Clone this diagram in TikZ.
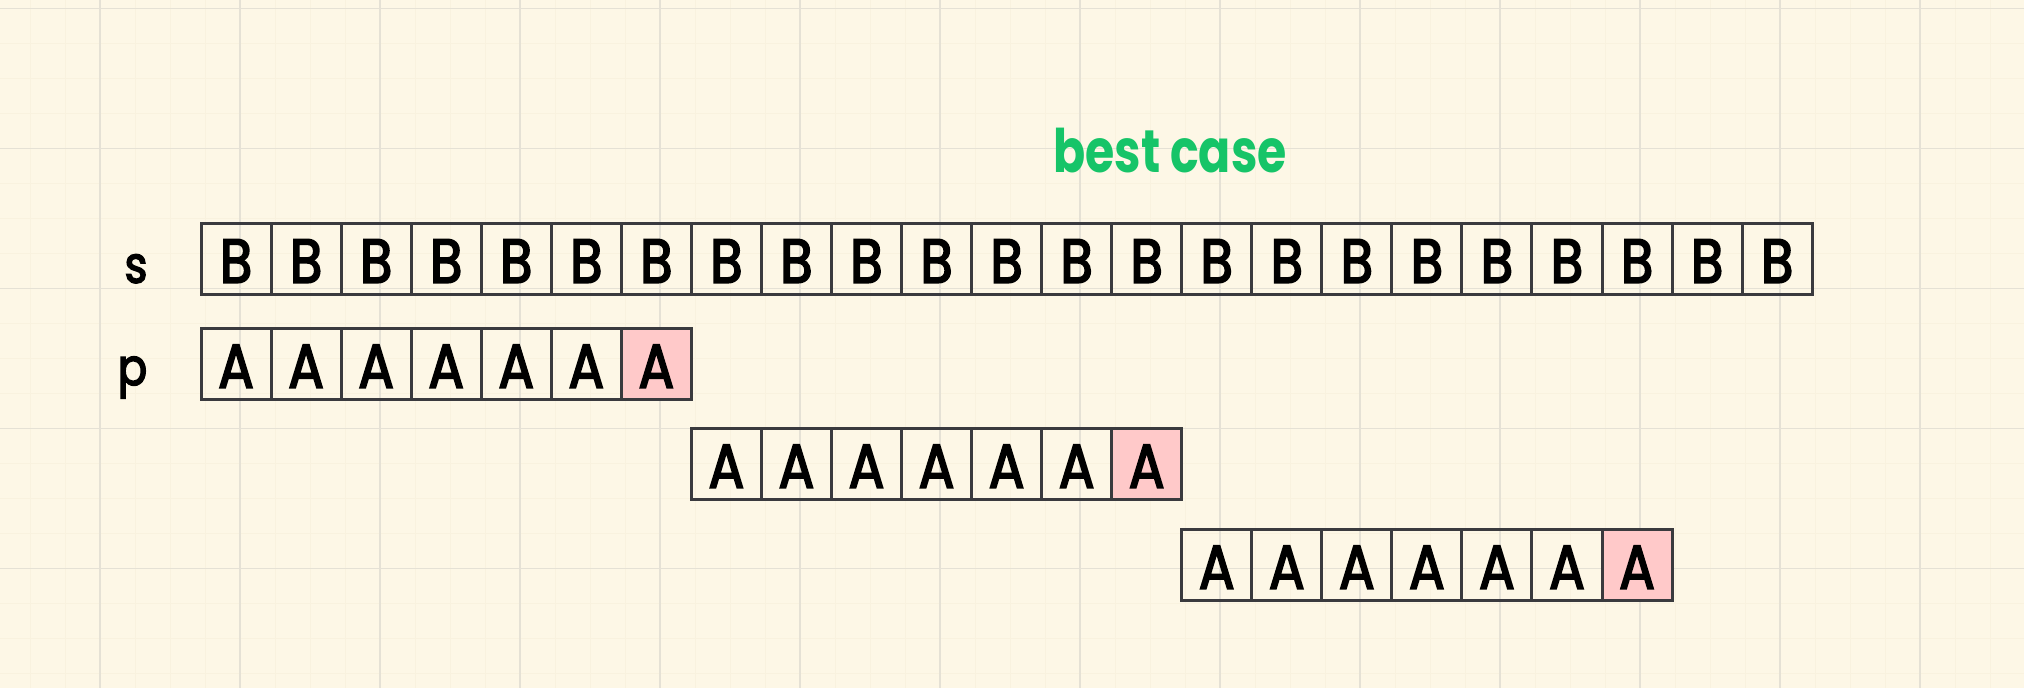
\documentclass[tikz,border=0pt]{standalone}
\usepackage{fontspec}
\setmainfont{Poppins}
\newfontfamily\cellfont[FakeBold=3, FakeStretch=0.85]{Poppins}
\newfontfamily\titlefont[FakeStretch=0.79]{Poppins}
\definecolor{bgc}{RGB}{253,247,230}
\definecolor{minorc}{RGB}{249,242,223}
\definecolor{majorc}{RGB}{229,225,213}
\definecolor{edgec}{RGB}{58,58,62}
\definecolor{pinkc}{RGB}{255,201,201}
\definecolor{greenc}{RGB}{22,196,104}
\tikzset{
  cell/.style={draw=edgec, line width=3pt, rectangle, minimum width=70.05pt, minimum height=70.8pt,
    inner sep=0pt, text height=48pt, text depth=0pt, font=\cellfont\fontsize{62}{62}\selectfont, text=black},
  hit/.style={cell, fill=pinkc},
  rowlabel/.style={anchor=base, font=\cellfont\fontsize{51}{51}\selectfont, text=black, inner sep=0pt},
  minorline/.style={draw=minorc, line width=1pt},
  majorline/.style={draw=majorc, line width=1.2pt}
}
\begin{document}
\begin{tikzpicture}[x=1pt,y=-1pt]
\fill[bgc] (0,0) rectangle (2024,688);
\useasboundingbox (0,0) rectangle (2024,688);
% minor grid
\foreach \i in {-2,...,55} { \draw[minorline] ({100+35*\i},0) -- ({100+35*\i},688); }
\foreach \j in {0,...,19} { \draw[minorline] (0,{8.33+35*\j}) -- (2024,{8.33+35*\j}); }
% major grid
\foreach \i in {0,...,13} { \draw[majorline] ({100+140*\i},0) -- ({100+140*\i},688); }
\foreach \j in {0,...,4} { \draw[majorline] (0,{8.33+140*\j}) -- (2024,{8.33+140*\j}); }
% title
\node[anchor=base, inner sep=0pt, text=greenc, font=\titlefont\fontsize{60}{60}\selectfont\bfseries] (title) at (1170,172) {best case};
% row labels
\node[rowlabel] (slabel) at (136,282.7) {s};
\node[rowlabel] (plabel) at (132.5,385) {p};
% s row
\foreach \k in {0,...,22} {
  \node[cell] (s\k) at ({201+70.05*(\k+0.5)},258.65) {B};
}
% p rows
\foreach \r/\off/\yc in {1/0/363.8, 2/7/463.65, 3/14/564.65} {
  \foreach \k in {0,...,5} {
    \node[cell] (p\r-\k) at ({201+70.05*(\off+\k+0.5)},\yc) {A};
  }
  \node[hit] (p\r-6) at ({201+70.05*(\off+6.5)},\yc) {A};
}
\end{tikzpicture}
\end{document}
